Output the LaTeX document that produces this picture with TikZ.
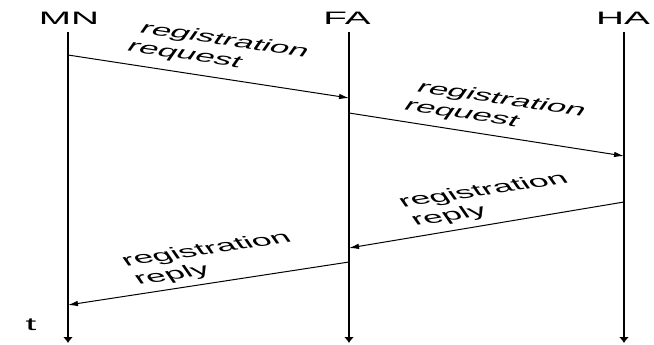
\documentclass[tikz,border=0pt]{standalone}
\usepackage{fontspec}
\setmainfont{Liberation Sans}
\usetikzlibrary{arrows.meta}
\begin{document}
\begin{tikzpicture}[x=1pt,y=-1pt,
  actor/.style={font=\fontsize{18}{20}\selectfont, inner sep=0pt, xscale=2.15},
  lifeline/.style={line width=1.7pt, -{Latex[length=6pt,width=10pt]}},
  msg/.style={line width=1pt, -{Latex[length=10pt,width=5.5pt]}},
  msglabel/.style={font=\fontsize{16.5}{19}\selectfont, align=left, inner sep=0pt, xscale=2.15}]
\useasboundingbox (0,0) rectangle (654,345);

% actors
\node[actor] (MN) at (69,18.5) {MN};
\node[actor] (FA) at (347,18.5) {FA};
\node[actor] (HA) at (623,18.5) {HA};
\node[actor] (t) at (31,325) {t};

% lifelines
\coordinate (MNtop) at (68,32);   \coordinate (MNbot) at (68,343);
\coordinate (FAtop) at (349,32);  \coordinate (FAbot) at (349,343);
\coordinate (HAtop) at (624,32);  \coordinate (HAbot) at (624,343);
\draw[lifeline] (MNtop) -- (MNbot);
\draw[lifeline] (FAtop) -- (FAbot);
\draw[lifeline] (HAtop) -- (HAbot);

% message end points
\coordinate (r1s) at (68,55);   \coordinate (r1e) at (349,98);
\coordinate (r2s) at (349,113); \coordinate (r2e) at (624,156);
\coordinate (p1s) at (624,202); \coordinate (p1e) at (349,248);
\coordinate (p2s) at (349,262); \coordinate (p2e) at (68,305);

\draw[msg] (r1s) -- (r1e);
\draw[msg] (r2s) -- (r2e);
\draw[msg] (p1s) -- (p1e);
\draw[msg] (p2s) -- (p2e);

% message labels
\coordinate (l1) at (218,50);
\coordinate (l2) at (495,109);
\coordinate (l3) at (490,200);
\coordinate (l4) at (213,259);
\node[msglabel, rotate=-18] (t1) at (l1) {registration\\request};
\node[msglabel, rotate=-18] (t2) at (l2) {registration\\request};
\node[msglabel, rotate=18] (t3) at (l3) {registration\\reply};
\node[msglabel, rotate=18] (t4) at (l4) {registration\\reply};
\end{tikzpicture}
\end{document}
